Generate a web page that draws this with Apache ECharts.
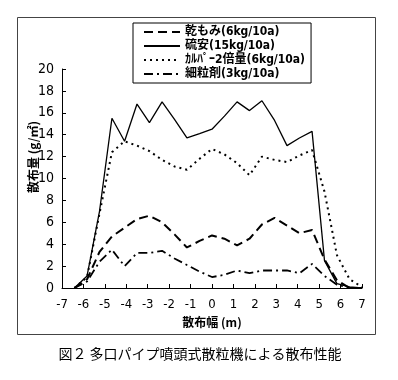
<!DOCTYPE html>
<html><head><meta charset="utf-8">
<script src="https://cdn.jsdelivr.net/npm/echarts@6/dist/echarts.min.js"></script>
<style>html,body{margin:0;padding:0;background:#fff}#c{width:398px;height:380px}</style>
</head><body><div id="c"></div>
<script>
// distance positions (m)
var positions = [-6.42,-5.83,-5.25,-4.67,-4.08,-3.5,-2.92,-2.33,-1.75,-1.17,-0.58,0,0.58,1.17,1.75,2.33,2.92,3.5,4.08,4.67,5.25,5.83,6.42,7];
var seriesNames = ['乾もみ(6kg/10a)','硫安(15kg/10a)','ｶﾙﾊﾟｰ2倍量(6kg/10a)','細粒剤(3kg/10a)'];
var dryMomi   = [0,0.8,3.3,4.7,5.5,6.3,6.6,6.0,4.9,3.7,4.3,4.8,4.5,3.9,4.5,5.8,6.4,5.7,5.0,5.3,2.6,0.7,0,0];
var ryuan     = [0,1.1,7.0,15.5,13.4,16.8,15.1,17.0,15.4,13.7,14.1,14.5,15.7,17.0,16.2,17.1,15.3,13.0,13.7,14.3,2.5,0.4,0.1,0];
var calper    = [0,1.0,6.8,12.4,13.4,13.0,12.5,11.7,11.1,10.8,11.8,12.7,12.2,11.4,10.3,12.0,11.7,11.5,12.1,12.6,8.8,3.0,0.8,0.1];
var fineGran  = [0,0.6,2.4,3.5,2.0,3.2,3.2,3.4,2.7,2.1,1.5,1.0,1.2,1.6,1.35,1.6,1.6,1.6,1.35,2.2,1.1,0.3,0,0];
var xTicks = {min:-7,max:7,interval:1};
var yTicks = {min:0,max:20,interval:2};
var yName = '散布量 (g/㎡)';
var xName = '散布幅 (m)';
var caption = '図２ 多口パイプ噴頭式散粒機による散布性能';

function pairs(v){return positions.map(function(x,i){return [x,v[i]];});}
var NF = "'DejaVu Sans Condensed','Liberation Sans Narrow','Noto Sans CJK JP',sans-serif";
var JF = "'Noto Sans CJK JP',sans-serif";
var chart = echarts.init(document.getElementById('c'));
function mk(name,data,type,width){
  return {name:name,type:'line',data:pairs(data),symbol:'none',showSymbol:false,smooth:false,
    lineStyle:{color:'#000',width:width,type:type},itemStyle:{color:'#000'},z:3};
}
chart.setOption({
  animation:false,
  backgroundColor:'#fff',
  grid:{left:62,right:36,top:69,bottom:92},
  legend:{orient:'vertical',left:133,top:23,width:180,
    borderColor:'#000',borderWidth:1,padding:[3,6,3,10],itemGap:2,itemWidth:36,itemHeight:12,
    backgroundColor:'#fff',
    itemStyle:{opacity:0},
    textStyle:{fontFamily:NF,fontSize:12,color:'#000',fontWeight:'bold'},
    data:seriesNames},
  xAxis:{type:'value',min:xTicks.min,max:xTicks.max,interval:xTicks.interval,
    axisLine:{onZero:false,lineStyle:{color:'#000',width:1}},
    axisTick:{inside:true,length:4,lineStyle:{color:'#000'}},
    splitLine:{show:false},
    axisLabel:{color:'#000',fontFamily:NF,fontSize:13,margin:10},
    name:xName,nameLocation:'middle',nameGap:28,
    nameTextStyle:{color:'#000',fontFamily:JF,fontSize:12,fontWeight:'bold'}},
  yAxis:{type:'value',min:yTicks.min,max:yTicks.max,interval:yTicks.interval,
    axisLine:{show:true,onZero:false,lineStyle:{color:'#000',width:1}},
    axisTick:{show:true,inside:true,length:4,lineStyle:{color:'#000'}},
    splitLine:{show:false},
    axisLabel:{color:'#000',fontFamily:NF,fontSize:14,margin:8}},
  graphic:[
    {type:'rect',shape:{x:17.5,y:17.5,width:358,height:317},style:{fill:'none',stroke:'#444',lineWidth:1},z:-1},
    {type:'text',x:33,y:157,rotation:Math.PI/2,style:{text:yName,fill:'#000',font:'bold 12px '+JF,textAlign:'center',textVerticalAlign:'middle'}},
    {type:'text',x:200,y:354,style:{text:caption,fill:'#000',font:'14px '+JF,textAlign:'center',textVerticalAlign:'middle'}}
  ],
  series:[
    mk(seriesNames[0],dryMomi,[9,5],2),
    mk(seriesNames[1],ryuan,'solid',1.3),
    mk(seriesNames[2],calper,[2,4],2),
    mk(seriesNames[3],fineGran,[9,4,2,4],1.8)
  ]
});
</script></body></html>
